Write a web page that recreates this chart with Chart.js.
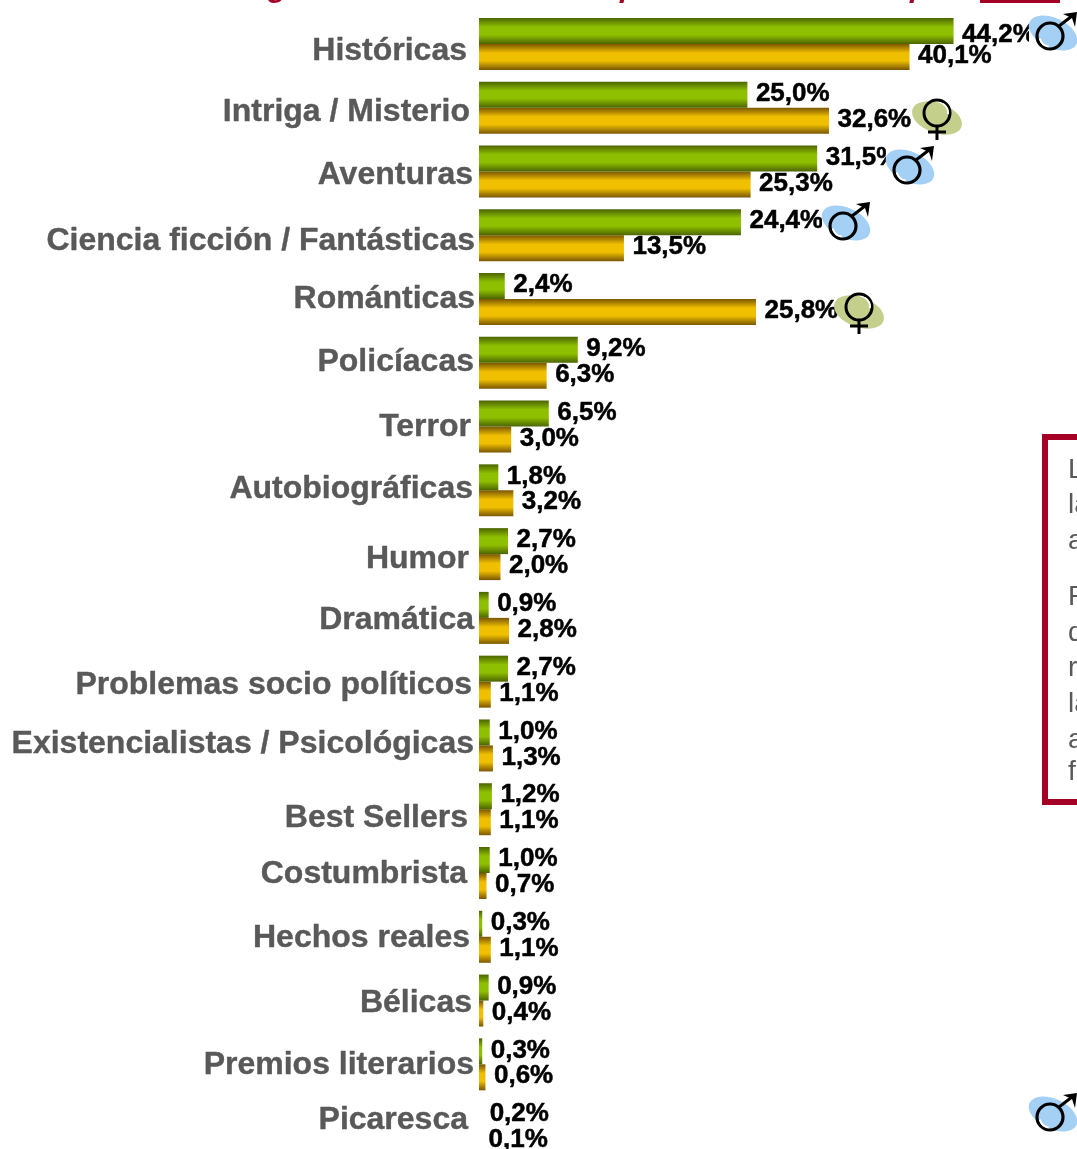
<!DOCTYPE html>
<html lang="es">
<head>
<meta charset="utf-8">
<title>Géneros de lectura</title>
<script src="https://cdn.jsdelivr.net/npm/chart.js@4"></script>
<style>
    html, body { margin: 0; padding: 0; background: #fff; overflow: hidden; }
    #grafica { display: block; }
</style>
</head>
<body>
<canvas id="grafica" width="1077" height="1180"></canvas>
<script>
var generos = ['Históricas', 'Intriga / Misterio', 'Aventuras', 'Ciencia ficción / Fantásticas', 'Románticas',
    'Policíacas', 'Terror', 'Autobiográficas', 'Humor', 'Dramática', 'Problemas socio políticos',
    'Existencialistas / Psicológicas', 'Best Sellers', 'Costumbrista', 'Hechos reales', 'Bélicas',
    'Premios literarios', 'Picaresca'];
var hombres = [44.2, 25.0, 31.5, 24.4, 2.4, 9.2, 6.5, 1.8, 2.7, 0.9, 2.7, 1.0, 1.2, 1.0, 0.3, 0.9, 0.3, 0.2];
var mujeres = [40.1, 32.6, 25.3, 13.5, 25.8, 6.3, 3.0, 3.2, 2.0, 2.8, 1.1, 1.3, 1.1, 0.7, 1.1, 0.4, 0.6, 0.1];

// las etiquetas del original estan colocadas a mano, no van alineadas
var ajusteEtiquetaX = [-8, -5, -2, 0, 0, -1, -4, -2, -6, -1, -3, -1, -7, -8, -5, -3, -1, -7];
var ajusteEtiquetaY = [6, 4, 3, 5, -1, -2, 0, -2, 4, 1, 3, -2, 8, 0, 0, 2, 0, -9];

function degradado(c, oscuro, claro, abajo) {
    var eje = c.chart.scales.y;
    if (!eje || !c.chart.chartArea) return claro;
    var centro = eje.getPixelForValue(c.dataIndex);
    var y0 = abajo ? centro : centro - 26;
    var g = c.chart.ctx.createLinearGradient(0, y0, 0, y0 + 26);
    g.addColorStop(0, oscuro);
    g.addColorStop(0.35, claro);
    g.addColorStop(0.65, claro);
    g.addColorStop(1, oscuro);
    return g;
}

function pintaMasculino(ctx, x, y) {
    ctx.save();
    ctx.fillStyle = '#fff';
    ctx.fillRect(x - 21, y - 24, 48, 48);
    ctx.fillStyle = '#a5d0f5';
    ctx.beginPath();
    ctx.ellipse(x + 3, y - 3, 26, 15, 0.45, 0, Math.PI * 2);
    ctx.fill();
    ctx.strokeStyle = '#000';
    ctx.lineWidth = 3.2;
    ctx.beginPath();
    ctx.arc(x, y, 13, 0, Math.PI * 2);
    ctx.stroke();
    ctx.strokeStyle = '#fff';
    ctx.lineWidth = 2;
    ctx.beginPath();
    ctx.arc(x, y, 10.5, 1.7, 2.9);
    ctx.stroke();
    ctx.strokeStyle = '#000';
    ctx.lineWidth = 3;
    ctx.beginPath();
    ctx.moveTo(x + 9, y - 10);
    ctx.lineTo(x + 22, y - 20);
    ctx.stroke();
    ctx.fillStyle = '#000';
    ctx.beginPath();
    ctx.moveTo(x + 27, y - 24);
    ctx.lineTo(x + 13, y - 22);
    ctx.lineTo(x + 22, y - 18);
    ctx.lineTo(x + 25, y - 9);
    ctx.closePath();
    ctx.fill();
    ctx.restore();
}

function pintaFemenino(ctx, x, y) {
    ctx.save();
    ctx.fillStyle = '#c3cf8b';
    ctx.beginPath();
    ctx.ellipse(x, y + 5, 26, 15, 0.35, 0, Math.PI * 2);
    ctx.fill();
    ctx.strokeStyle = '#000';
    ctx.lineWidth = 3;
    ctx.beginPath();
    ctx.arc(x, y, 13, 0, Math.PI * 2);
    ctx.stroke();
    ctx.strokeStyle = '#fff';
    ctx.lineWidth = 2;
    ctx.beginPath();
    ctx.arc(x, y, 11, -1, 0.1);
    ctx.stroke();
    ctx.strokeStyle = '#000';
    ctx.lineWidth = 3;
    ctx.beginPath();
    ctx.moveTo(x, y + 13);
    ctx.lineTo(x, y + 27);
    ctx.moveTo(x - 9, y + 19);
    ctx.lineTo(x + 9, y + 19);
    ctx.stroke();
    ctx.restore();
}

var rotulos = {
    id: 'rotulos',
    afterDatasetsDraw: function (chart) {
        var ctx = chart.ctx;
        var eje = chart.scales.y;
        ctx.save();
        ctx.textBaseline = 'middle';
        ctx.lineJoin = 'round';

        // nombres de los generos
        ctx.textAlign = 'right';
        ctx.font = 'bold 32px "Liberation Sans"';
        ctx.fillStyle = '#595959';
        ctx.strokeStyle = '#595959';
        ctx.lineWidth = 0.4;
        generos.forEach(function (g, i) {
            var x = 475 + ajusteEtiquetaX[i];
            var y = eje.getPixelForValue(i) + ajusteEtiquetaY[i] + 1;
            ctx.fillText(g, x, y);
            ctx.strokeText(g, x, y);
        });

        // porcentajes
        ctx.textAlign = 'left';
        ctx.font = 'bold 26px "Liberation Sans"';
        ctx.fillStyle = '#000';
        ctx.strokeStyle = '#000';
        ctx.lineWidth = 0.5;
        chart.data.datasets.forEach(function (ds, d) {
            var meta = chart.getDatasetMeta(d);
            ds.data.forEach(function (v, i) {
                var el = meta.data[i];
                var txt = v.toFixed(1).replace('.', ',') + '%';
                var y = el.y - 1;
                if (d === 0 && i === 0) y += 5; // el 44,2% va mas bajo en el original
                ctx.fillText(txt, el.x + 8.5, y);
                ctx.strokeText(txt, el.x + 8.5, y);
            });
        });
        ctx.restore();

        pintaMasculino(ctx, 1050, 36);
        pintaFemenino(ctx, 937, 113);
        pintaMasculino(ctx, 907, 170);
        pintaMasculino(ctx, 843, 226);
        pintaFemenino(ctx, 859, 307);
        pintaMasculino(ctx, 1050, 1117);

        // titulo cortado arriba, solo asoman los rabos
        ctx.save();
        ctx.fillStyle = '#a50026';
        ctx.fillRect(980, 0, 80, 3);
        ctx.font = 'italic bold 30px "Liberation Sans"';
        ctx.textAlign = 'left';
        ctx.textBaseline = 'alphabetic';
        ctx.fillText('g', 268, -3);
        ctx.fillText('p', 620, -3);
        ctx.fillText('p', 910, -3);
        ctx.restore();

        // recuadro de la derecha, cortado por el borde
        ctx.save();
        ctx.strokeStyle = '#a50026';
        ctx.lineWidth = 6;
        ctx.strokeRect(1045, 437, 60, 365);
        ctx.fillStyle = '#595959';
        ctx.font = '28px "Liberation Sans"';
        ctx.textAlign = 'left';
        ctx.textBaseline = 'middle';
        var lineas = [['L', 470], ['la', 505], ['a', 541], ['P', 597], ['d', 633], ['r', 668], ['la', 704], ['a', 740], ['fa', 772]];
        lineas.forEach(function (l) { ctx.fillText(l[0], 1068, l[1]); });
        ctx.restore();
    }
};

new Chart(document.getElementById('grafica').getContext('2d'), {
    type: 'bar',
    data: {
        labels: generos,
        datasets: [
            {
                label: 'Hombres',
                data: hombres,
                backgroundColor: function (c) {
                    if (c.dataIndex === 17) return 'rgba(0,0,0,0)';
                    return degradado(c, '#4c6400', '#8fc000', false);
                }
            },
            {
                label: 'Mujeres',
                data: mujeres,
                backgroundColor: function (c) {
                    if (c.dataIndex === 17) return 'rgba(0,0,0,0)';
                    return degradado(c, '#7a5600', '#f0c000', true);
                }
            }
        ]
    },
    plugins: [rotulos],
    options: {
        indexAxis: 'y',
        responsive: false,
        animation: false,
        layout: { padding: { left: 479, right: 0, top: 12, bottom: 20 } },
        categoryPercentage: 0.815,
        barPercentage: 1,
        plugins: { legend: { display: false }, tooltip: { enabled: false } },
        scales: {
            x: { display: false, min: 0, max: 55.7 },
            y: { display: false }
        }
    }
});
</script>
</body>
</html>
